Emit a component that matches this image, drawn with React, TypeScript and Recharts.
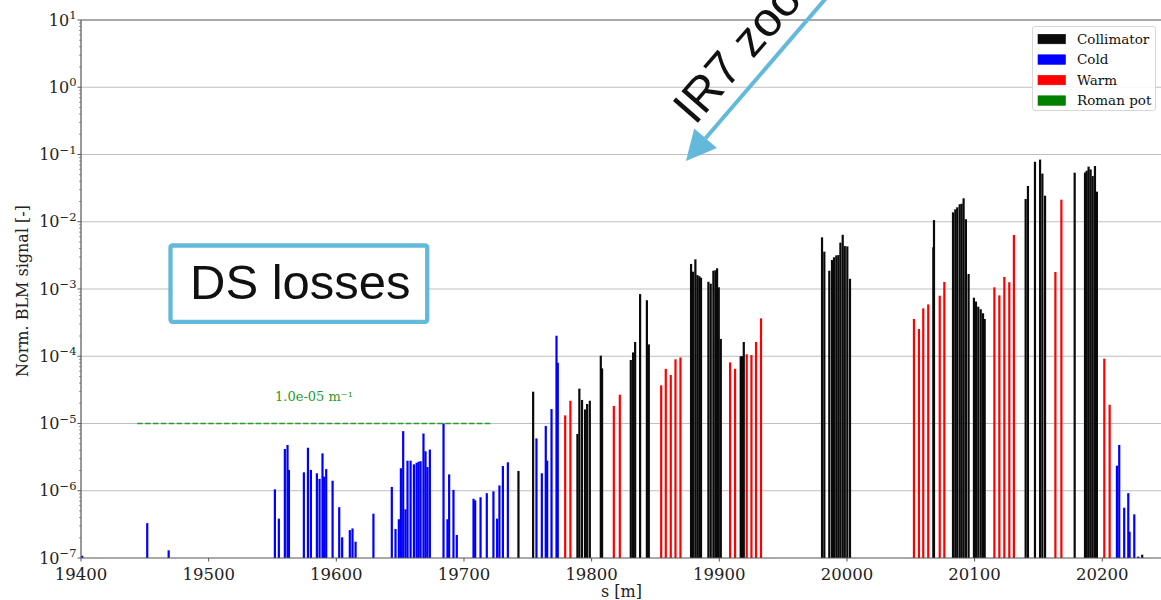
import React from "react";
import { BarChart, Bar, XAxis, YAxis, CartesianGrid, ReferenceLine } from "recharts";

// Loss map around IR7: longitudinal position s [m] and normalised BLM signal per element type
const collimatorS = [
  19742.7, 19754.2, 19788.9, 19790.4, 19792.5, 19794.9, 19796.5, 19798.6, 19807.2, 19808.2,
  19830.7, 19832.5, 19834.1, 19838.0, 19843.3, 19844.8, 19877.9, 19879.5, 19881.3, 19882.9,
  19884.4, 19885.7, 19891.5, 19893.3, 19895.4, 19897.0, 19898.3, 19899.6, 19901.2, 19916.8,
  19917.9, 19919.2, 19980.5, 19982.3, 19986.2, 19988.3, 19989.9, 19991.7, 19993.3, 19994.9,
  19996.7, 19998.3, 20000.3, 20002.4, 20067.7, 20068.2, 20083.1, 20084.9, 20086.4, 20088.3,
  20089.8, 20091.4, 20093.2, 20095.3, 20099.5, 20101.1, 20102.9, 20104.8, 20106.6, 20107.9,
  20140.0, 20141.8, 20147.3, 20151.3, 20153.1, 20155.2, 20178.4, 20186.5, 20187.8, 20189.3,
  20190.9, 20192.5, 20194.3, 20195.8, 20231.3,
];
const collimatorSignal = [
  1.97e-6, 2.97e-5, 6.98e-6, 3.3e-5, 2.24e-5, 1.62e-5, 1.95e-5, 2.18e-5, 1.02e-4, 6.6e-5,
  8.8e-5, 1.14e-4, 1.63e-4, 8.4e-4, 6.8e-4, 1.5e-4, 2.36e-3, 1.81e-3, 2.76e-3, 1.61e-3,
  1.55e-3, 1.47e-3, 1.28e-3, 1.2e-3, 1.87e-3, 1.9e-3, 2.03e-3, 1.06e-3, 1.81e-4, 1.0e-4,
  1.0e-4, 1.63e-4, 5.86e-3, 3.59e-3, 1.87e-3, 2.7e-3, 2.96e-3, 3.16e-3, 3.2e-3, 4.9e-3,
  6.4e-3, 4.35e-3, 4.3e-3, 1.42e-3, 4.17e-3, 1.06e-2, 1.38e-2, 1.53e-2, 1.64e-2, 1.82e-2,
  1.85e-2, 2.23e-2, 1.09e-2, 1.67e-3, 7.43e-4, 6.5e-4, 5.46e-4, 5.0e-4, 4.35e-4, 3.58e-4,
  2.18e-2, 3.4e-2, 7.8e-2, 8.4e-2, 5.2e-2, 2.44e-2, 5.37e-2, 5.4e-2, 5.74e-2, 6.6e-2,
  6.0e-2, 4.78e-2, 6.75e-2, 2.8e-2, 1.12e-7,
];

const coldS = [
  19401.0, 19451.9, 19468.7, 19551.9, 19555.0, 19559.7, 19561.8, 19562.9, 19574.6, 19577.8,
  19580.1, 19584.8, 19586.9, 19589.2, 19590.5, 19592.1, 19597.1, 19602.3, 19604.6, 19610.6,
  19612.7, 19615.1, 19629.1, 19643.5, 19646.4, 19649.0, 19650.6, 19652.4, 19654.2, 19655.8,
  19658.2, 19660.8, 19662.9, 19664.4, 19666.0, 19668.3, 19669.9, 19671.4, 19673.3, 19684.0,
  19687.1, 19688.4, 19691.8, 19694.4, 19707.5, 19708.8, 19713.0, 19717.9, 19723.1, 19726.0,
  19727.8, 19730.5, 19734.4, 19756.8, 19761.0, 19764.1, 19765.2, 19768.6, 19772.5, 19773.5,
  20211.5, 20213.3, 20217.2, 20220.4, 20221.4, 20225.1, 20228.2,
];
const coldSignal = [
  1.08e-7, 3.3e-7, 1.3e-7, 1.05e-6, 3.85e-7, 4.18e-6, 4.79e-6, 2.04e-6, 1.88e-6, 4.36e-6,
  2.04e-6, 1.82e-6, 1.5e-6, 3.6e-6, 1.62e-6, 2.1e-6, 1.41e-6, 5.7e-7, 2.03e-7, 2.6e-7,
  2.75e-7, 1.75e-7, 4.56e-7, 1.14e-6, 2.7e-7, 3.77e-7, 2.16e-6, 7.7e-6, 5.3e-7, 2.8e-6,
  2.8e-6, 2.47e-6, 2.6e-6, 2.7e-6, 2.75e-6, 7.1e-6, 3.86e-6, 2.25e-6, 4.1e-6, 1.0e-5,
  3.77e-7, 1.75e-6, 1.03e-6, 2.2e-7, 7.6e-7, 7.2e-7, 8.0e-7, 9.2e-7, 9.8e-7, 3.85e-7,
  1.2e-6, 2.33e-6, 2.65e-6, 6.0e-6, 1.82e-6, 9.2e-6, 2.8e-6, 1.64e-5, 2.02e-4, 8.0e-5,
  2.36e-6, 4.8e-6, 5.6e-7, 9.2e-7, 2.46e-7, 4.46e-7, 1.05e-7,
];

const warmS = [
  19779.3, 19783.4, 19817.4, 19822.1, 19854.5, 19858.1, 19862.0, 19865.7, 19869.6, 19908.5,
  19912.4, 19921.5, 19925.2, 19928.8, 19932.7, 20052.5, 20056.4, 20059.8, 20063.7, 20072.7,
  20076.3, 20115.5, 20119.4, 20123.3, 20127.2, 20130.8, 20163.3, 20168.0, 20201.6, 20205.8,
];
const warmSignal = [
  1.32e-5, 2.18e-5, 1.82e-5, 2.68e-5, 3.7e-5, 6.5e-5, 5.26e-5, 9.0e-5, 9.6e-5, 8.1e-5,
  6.5e-5, 1.07e-4, 1.04e-4, 1.63e-4, 3.66e-4, 3.58e-4, 2.54e-4, 5.15e-4, 5.9e-4, 7.94e-4,
  1.27e-3, 1.06e-3, 8.05e-4, 1.51e-3, 1.26e-3, 6.35e-3, 1.79e-3, 2.13e-2, 9.2e-5, 1.9e-5,
];

const romanPotS: number[] = [];
const romanPotSignal: number[] = [];

const xTicks = [19400, 19500, 19600, 19700, 19800, 19900, 20000, 20100, 20200];
const yDecades = [1e-7, 1e-6, 1e-5, 1e-4, 1e-3, 1e-2, 1e-1, 1e0, 1e1];
const legendLabels = ["Collimator", "Cold", "Warm", "Roman pot"];

const thresholdValue = 1e-5;
const thresholdFrom = 19444;
const thresholdTo = 19721;
const thresholdLabel = "1.0e-05 m\u207B\u00B9";

const COLORS: Record<string, string> = {
  Collimator: "#0a0a0a",
  Cold: "#0000ff",
  Warm: "#ff0000",
  "Roman pot": "#008000",
};

type Row = { s: number; signal: number; kind: string };

const toRows = (kind: string, s: number[], v: number[]): Row[] =>
  s.map((pos, i) => ({ s: pos, signal: v[i], kind }));

const rows: Row[] = [
  ...toRows("Collimator", collimatorS, collimatorSignal),
  ...toRows("Cold", coldS, coldSignal),
  ...toRows("Warm", warmS, warmSignal),
  ...toRows("Roman pot", romanPotS, romanPotSignal),
].sort((a, b) => a.s - b.s);

// minor log ticks 2..9 between the labelled decades
const yTicks = [
  ...yDecades,
  ...yDecades.slice(0, -1).flatMap((d) => [2, 3, 4, 5, 6, 7, 8, 9].map((k) => k * d)),
].sort((a, b) => a - b);

const SERIF = "DejaVu Serif";
const SANS = "Liberation Sans, Arial, sans-serif";
const AXIS = "#555555";
const ACCENT = "#63b9d9";
const BAR_W = 2.2;

// thin stem centred on the position the library computed for the bar
function Stem(props: any) {
  const { x, y, width, height, payload } = props;
  if (x == null || y == null || !isFinite(height) || height <= 0) return null;
  const cx = x + width / 2;
  return (
    <rect
      x={cx - BAR_W / 2}
      y={y}
      width={BAR_W}
      height={height}
      fill={COLORS[payload.kind]}
    />
  );
}

function XTick({ x, y, payload }: any) {
  return (
    <g>
      <line x1={x} x2={x} y1={y} y2={y + 3.5} stroke={AXIS} strokeWidth={1} />
      <text
        x={x}
        y={y + 22}
        textAnchor="middle"
        fontFamily={SERIF}
        fontSize={16.5}
        fill="#222"
      >
        {payload.value}
      </text>
    </g>
  );
}

function YTick({ x, y, payload }: any) {
  const p = Math.log10(payload.value);
  const e = Math.round(p);
  const major = Math.abs(p - e) < 1e-6;
  return (
    <g>
      <line
        x1={x - (major ? 3.5 : 2)}
        x2={x}
        y1={y}
        y2={y}
        stroke={AXIS}
        strokeWidth={major ? 1 : 0.6}
      />
      {major && (
        <text
          x={x - 4.5}
          y={y + 5.7}
          textAnchor="end"
          fontFamily={SERIF}
          fontSize={16}
          fill="#222"
        >
          10
          <tspan dy={-6.5} fontSize={11.5}>
            {e < 0 ? `\u2212${-e}` : `${e}`}
          </tspan>
        </text>
      )}
    </g>
  );
}

function LegendBox() {
  return (
    <div
      style={{
        position: "absolute",
        left: 1032,
        top: 26,
        width: 124,
        height: 85,
        border: "1px solid #d6d6d6",
        borderRadius: 3,
        background: "rgba(255,255,255,0.85)",
        boxSizing: "border-box",
      }}
    >
      <svg width={124} height={85}>
        {legendLabels.map((label, i) => (
          <g key={label} transform={`translate(0, ${12 + i * 20.5})`}>
            <rect
              x={5}
              y={-4.7}
              width={27.5}
              height={9.5}
              fill={COLORS[label]}
              stroke={COLORS[label]}
              strokeWidth={0.6}
            />
            <text x={44} y={4.6} fontFamily={SERIF} fontSize={13.5} fill="#111">
              {label}
            </text>
          </g>
        ))}
      </svg>
    </div>
  );
}

function Annotations() {
  const tip = { x: 686, y: 161 };
  const start = { x: 827, y: -3 };
  const dx = tip.x - start.x;
  const dy = tip.y - start.y;
  const len = Math.hypot(dx, dy);
  const ux = dx / len;
  const uy = dy / len;
  const head = 30;
  const half = 15;
  const bx = tip.x - ux * head;
  const by = tip.y - uy * head;
  const wing1 = `${bx + uy * half},${by - ux * half}`;
  const wing2 = `${bx - uy * half},${by + ux * half}`;
  return (
    <svg
      width={1161}
      height={600}
      style={{ position: "absolute", left: 0, top: 0, pointerEvents: "none" }}
    >
      {/* axis titles */}
      <text x={621.5} y={597} textAnchor="middle" fontFamily={SERIF} fontSize={16} fill="#222">
        s [m]
      </text>
      <text
        x={27.5}
        y={291}
        textAnchor="middle"
        transform="rotate(-90 27.5 291)"
        fontFamily={SERIF}
        fontSize={16}
        fill="#222"
      >
        Norm. BLM signal [-]
      </text>

      <rect
        x={170.5}
        y={245.5}
        width={256.7}
        height={76.3}
        rx={2}
        fill="#ffffff"
        stroke={ACCENT}
        strokeWidth={4.3}
      />
      <text x={190} y={299} fontFamily={SANS} fontSize={49} fill="#111">
        DS losses
      </text>

      <line x1={start.x} y1={start.y} x2={bx} y2={by} stroke={ACCENT} strokeWidth={4} />
      <polygon points={`${tip.x},${tip.y} ${wing1} ${wing2}`} fill={ACCENT} />
      <text
        x={695}
        y={126}
        transform="rotate(-49 695 126)"
        fontFamily={SANS}
        fontSize={48}
        fill="#111"
      >
        IR7 zoom
      </text>
    </svg>
  );
}

export default function App() {
  return (
    <div
      style={{
        position: "absolute",
        left: 0,
        top: 0,
        width: 1161,
        height: 600,
        background: "#ffffff",
        overflow: "hidden",
      }}
    >
      <BarChart
        width={1161}
        height={600}
        data={rows}
        margin={{ top: 20, right: 0, bottom: 0, left: 0 }}
        barSize={2}
      >
        <CartesianGrid
          vertical={false}
          horizontalValues={yDecades.slice(1, -1)}
          stroke="#bfbfbf"
          strokeWidth={1}
        />
        <XAxis
          dataKey="s"
          type="number"
          domain={[19400, 20246]}
          allowDataOverflow
          ticks={xTicks}
          interval={0}
          tickSize={0}
          tickMargin={0}
          tickLine={false}
          tick={<XTick />}
          height={42}
          axisLine={{ stroke: AXIS, strokeWidth: 1.2 }}
        />
        <YAxis
          type="number"
          scale="log"
          domain={[1e-7, 10]}
          allowDataOverflow
          ticks={yTicks}
          interval={0}
          tickSize={0}
          tickMargin={0}
          tickLine={false}
          tick={<YTick />}
          width={81}
          axisLine={{ stroke: AXIS, strokeWidth: 1.2 }}
        />
        <ReferenceLine y={10} stroke={AXIS} strokeWidth={1.2} ifOverflow="visible" />
        <ReferenceLine
          segment={[
            { x: thresholdFrom, y: thresholdValue },
            { x: thresholdTo, y: thresholdValue },
          ]}
          stroke="#2a9a2a"
          strokeWidth={1.5}
          strokeDasharray="5.5 2.4"
          label={{
            value: thresholdLabel,
            position: "top",
            offset: 23,
            fill: "#2a9a2a",
            fontSize: 13,
            fontFamily: SERIF,
          }}
        />
        <Bar dataKey="signal" isAnimationActive={false} shape={<Stem />} />
      </BarChart>
      <LegendBox />
      <Annotations />
    </div>
  );
}
